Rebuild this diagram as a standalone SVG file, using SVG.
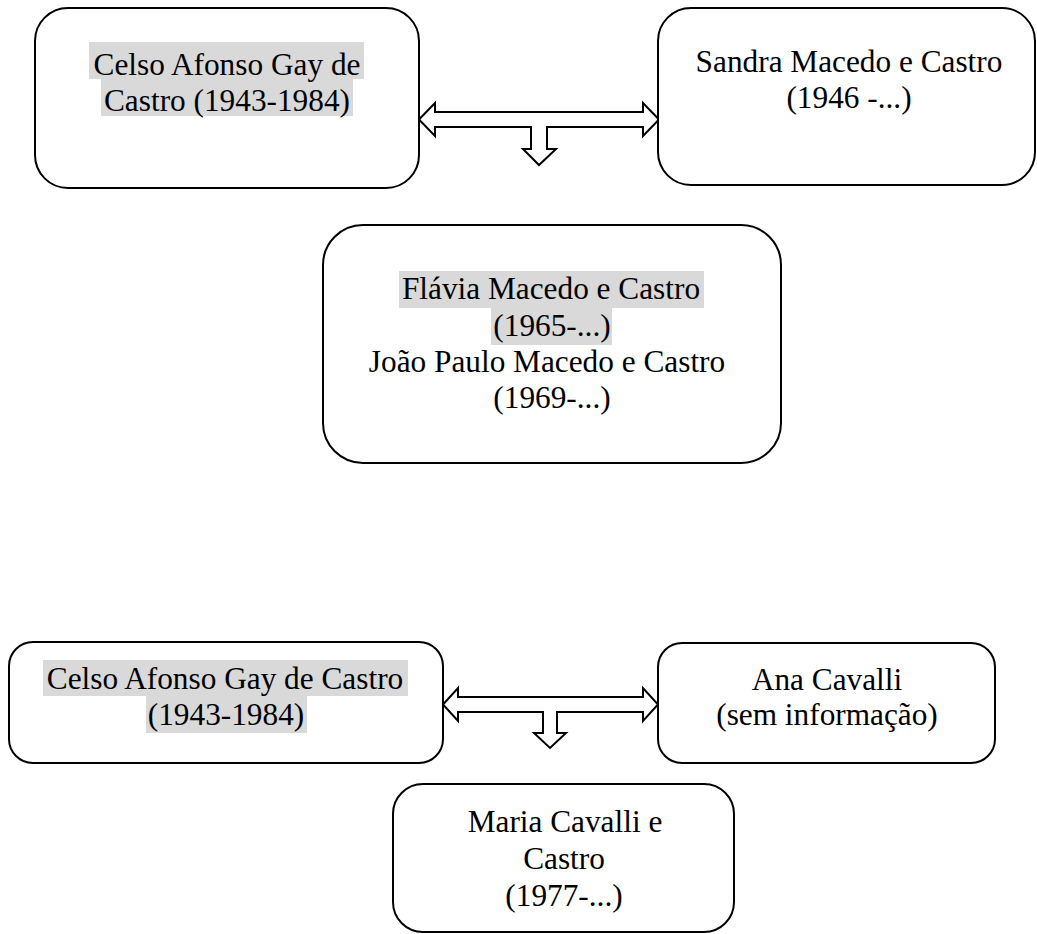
<svg xmlns="http://www.w3.org/2000/svg" width="1037" height="934" viewBox="0 0 1037 934">
<style>
.box{fill:#fff;stroke:#000;stroke-width:2}
.arr{fill:#fff;stroke:#000;stroke-width:2;stroke-linejoin:miter}
.hl{fill:#d9d9d9}
text{font-family:"Liberation Serif","Times New Roman",serif;font-size:31.3px;fill:#000;text-anchor:middle}
</style>
<rect width="1037" height="934" fill="#fff"/>
<g id="connectors">
<path class="arr" d="M419,119.5 L435,103 L435,112 L643,112 L643,103 L659,119.5 L643,136 L643,127 L547,127 L547,149 L556,149 L539,165 L523,149 L531,149 L531,127 L435,127 L435,136 Z"/>
<path class="arr" d="M443,704.5 L458,688 L458,697 L643,697 L643,688 L658,704.5 L643,721 L643,712 L557,712 L557,733 L566,733 L550,748 L534,733 L543,733 L543,712 L458,712 L458,721 Z"/>
</g>
<g id="celso1">
<rect class="box" x="35" y="8" width="384" height="180" rx="33" ry="33"/>
<rect class="hl" x="89" y="42" width="275" height="37"/>
<rect class="hl" x="101" y="79" width="252" height="37"/>
<text x="227" y="75">Celso Afonso Gay de</text>
<text x="227" y="111">Castro (1943-1984)</text>
</g>
<g id="sandra">
<rect class="box" x="658" y="8" width="377" height="177" rx="33" ry="33"/>
<text x="849" y="72">Sandra Macedo e Castro</text>
<text x="849" y="108">(1946 -...)</text>
</g>
<g id="filhos1">
<rect class="box" x="323" y="225" width="458" height="238" rx="40" ry="40"/>
<rect class="hl" x="399" y="271" width="305" height="37"/>
<rect class="hl" x="491" y="308" width="121" height="37"/>
<text x="551" y="299">Flávia Macedo e Castro</text>
<text x="552" y="336">(1965-...)</text>
<text x="547" y="372">João Paulo Macedo e Castro</text>
<text x="552" y="408">(1969-...)</text>
</g>
<g id="celso2">
<rect class="box" x="9" y="642" width="434" height="121" rx="24" ry="24"/>
<rect class="hl" x="43" y="660" width="365" height="36"/>
<rect class="hl" x="146" y="696" width="161" height="37"/>
<text x="225" y="689">Celso Afonso Gay de Castro</text>
<text x="226" y="725">(1943-1984)</text>
</g>
<g id="ana">
<rect class="box" x="658" y="643" width="337" height="120" rx="24" ry="24"/>
<text x="827" y="690">Ana Cavalli</text>
<text x="827" y="725">(sem informação)</text>
</g>
<g id="maria">
<rect class="box" x="393" y="784" width="341" height="148" rx="30" ry="30"/>
<text x="565" y="832">Maria Cavalli e</text>
<text x="564" y="869">Castro</text>
<text x="564" y="906">(1977-...)</text>
</g>
</svg>
